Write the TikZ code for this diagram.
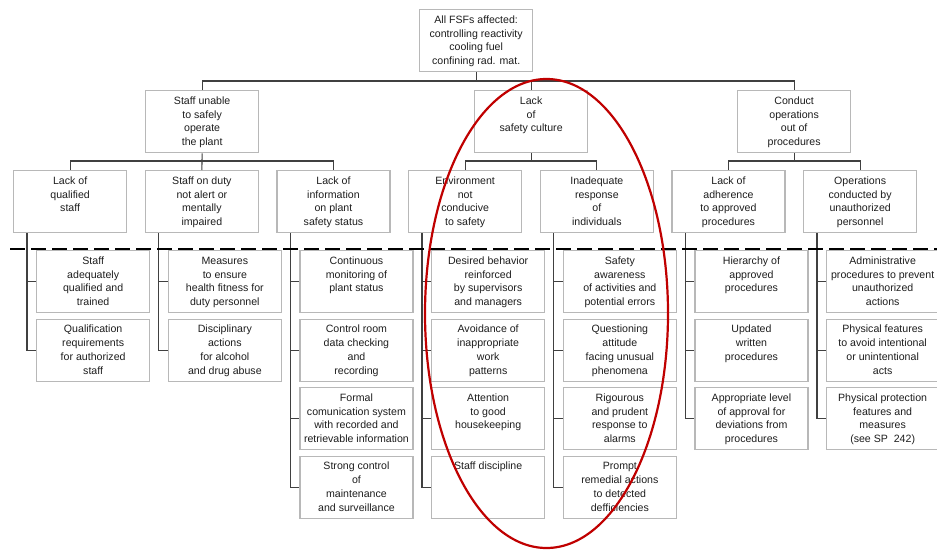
\documentclass[tikz,border=0pt]{standalone}
\usepackage{fontspec}
\setmainfont{Liberation Sans}
\definecolor{boxgray}{HTML}{B8B8B8}
\definecolor{linkgray}{HTML}{404040}
\definecolor{inkgray}{HTML}{1E1E1E}
\definecolor{ringred}{HTML}{C00000}
% box content: text set from the top of a fixed-size frame
\newcommand{\bx}[1]{\parbox[c][62pt][t]{113pt}{\centering\rule{0pt}{13.6pt}#1}}
\tikzset{
  fbox/.style={draw=boxgray, line width=1.3pt, fill=white, anchor=north west,
    inner sep=0pt, text=inkgray, font=\fontsize{10.6}{13.8}\selectfont},
  conn/.style={draw=linkgray, line width=1.1pt},
  divider/.style={draw=black, line width=2.2pt, dash pattern=on 15pt off 6pt},
  ring/.style={draw=ringred, line width=2.2pt}
}
\begin{document}
\begin{tikzpicture}[x=1pt,y=-1pt]
\fill[white] (0,0) rectangle (937,549);
\useasboundingbox (0,0) rectangle (937,549);

% top event
\node[fbox] (top) at (419,9) {\bx{All FSFs affected:\\controlling reactivity\\cooling fuel\\confining rad. mat.}};

% second level
\node[fbox] (sA) at (145,90) {\bx{Staff unable\\to safely\\operate\\the plant}};
\node[fbox] (sB) at (474,90) {\bx{Lack\\of\\safety culture}};
\node[fbox] (sC) at (737,90) {\bx{Conduct\\operations\\out of\\procedures}};

% third level
\node[fbox] (fA1) at (13,170)    {\bx{Lack of\\qualified\\staff}};
\node[fbox] (fA2) at (144.7,170) {\bx{Staff on duty\\not alert or\\mentally\\impaired}};
\node[fbox] (fA3) at (276.3,170) {\bx{Lack of\\information\\on plant\\safety status}};
\node[fbox] (fB1) at (408,170)   {\bx{Environment\\not\\conducive\\to safety}};
\node[fbox] (fB2) at (539.7,170) {\bx{Inadequate\\response\\of\\individuals}};
\node[fbox] (fC1) at (671.3,170) {\bx{Lack of\\adherence\\to approved\\procedures}};
\node[fbox] (fC2) at (803,170)   {\bx{Operations\\conducted by\\unauthorized\\personnel}};

% provisions (fourth level)
\node[fbox] (mA1a) at (36,250)   {\bx{Staff\\adequately\\qualified and\\trained}};
\node[fbox] (mA1b) at (36,318.5) {\bx{Qualification\\requirements\\for authorized\\staff}};

\node[fbox] (mA2a) at (167.7,250)   {\bx{Measures\\to ensure\\health fitness for\\duty personnel}};
\node[fbox] (mA2b) at (167.7,318.5) {\bx{Disciplinary\\actions\\for alcohol\\and drug abuse}};

\node[fbox] (mA3a) at (299.3,250)   {\bx{Continuous\\monitoring of\\plant status}};
\node[fbox] (mA3b) at (299.3,318.5) {\bx{Control room\\data checking\\and\\recording}};
\node[fbox] (mA3c) at (299.3,387)   {\bx{Formal\\comunication system\\with recorded and\\retrievable information}};
\node[fbox] (mA3d) at (299.3,455.5) {\bx{Strong control\\of\\maintenance\\and surveillance}};

\node[fbox] (mB1a) at (431,250)   {\bx{Desired behavior\\reinforced\\by supervisors\\and managers}};
\node[fbox] (mB1b) at (431,318.5) {\bx{Avoidance of\\inappropriate\\work\\patterns}};
\node[fbox] (mB1c) at (431,387)   {\bx{Attention\\to good\\housekeeping}};
\node[fbox] (mB1d) at (431,455.5) {\bx{Staff discipline}};

\node[fbox] (mB2a) at (562.7,250)   {\bx{Safety\\awareness\\of activities and\\potential errors}};
\node[fbox] (mB2b) at (562.7,318.5) {\bx{Questioning\\attitude\\facing unusual\\phenomena}};
\node[fbox] (mB2c) at (562.7,387)   {\bx{Rigourous\\and prudent\\response to\\alarms}};
\node[fbox] (mB2d) at (562.7,455.5) {\bx{Prompt\\remedial actions\\to detected\\defficiencies}};

\node[fbox] (mC1a) at (694.3,250)   {\bx{Hierarchy of\\approved\\procedures}};
\node[fbox] (mC1b) at (694.3,318.5) {\bx{Updated\\written\\procedures}};
\node[fbox] (mC1c) at (694.3,387)   {\bx{Appropriate level\\of approval for\\deviations from\\procedures}};

\node[fbox] (mC2a) at (825.5,250)   {\bx{Administrative\\procedures to prevent\\unauthorized\\actions}};
\node[fbox] (mC2b) at (825.5,318.5) {\bx{Physical features\\to avoid intentional\\or unintentional\\acts}};
\node[fbox] (mC2c) at (825.5,387)   {\bx{Physical protection\\features and\\measures\\(see SP~~242)}};

% bus levels
\coordinate (bus1) at (0,81);
\coordinate (bus2) at (0,161);

% top -> second level
\draw[conn] (top.south) -- (top.south |- bus1);
\draw[conn] (sA.north) |- (sC.north |- bus1) -- (sC.north);
\draw[conn] (sB.north) -- (sB.north |- bus1);

% second -> third level
\draw[conn] (sA.south) -- (fA2.north);
\draw[conn] (fA1.north) |- (fA3.north |- bus2) -- (fA3.north);
\draw[conn] (sB.south) -- (sB.south |- bus2);
\draw[conn] (fB1.north) |- (fB2.north |- bus2) -- (fB2.north);
\draw[conn] (sC.south) -- (sC.south |- bus2);
\draw[conn] (fC1.north) |- (fC2.north |- bus2) -- (fC2.north);

% third level -> provisions
\foreach \p/\kids in {fA1/{mA1a,mA1b}, fA2/{mA2a,mA2b}, fA3/{mA3a,mA3b,mA3c,mA3d},
                      fB1/{mB1a,mB1b,mB1c,mB1d}, fB2/{mB2a,mB2b,mB2c,mB2d},
                      fC1/{mC1a,mC1b,mC1c}, fC2/{mC2a,mC2b,mC2c}}{
  \foreach \k in \kids {
    \draw[conn] ([xshift=14pt]\p.south west) |- (\k.west);
  }
}

% dividing line between failures and provisions
\coordinate (divL) at (10,249);
\coordinate (divR) at (940,249);
\draw[divider] (divL) -- (divR);

% highlighted safety-culture branch
\draw[ring] (546.5,313.5) ellipse [x radius=121.5, y radius=234.5];
\end{tikzpicture}
\end{document}
